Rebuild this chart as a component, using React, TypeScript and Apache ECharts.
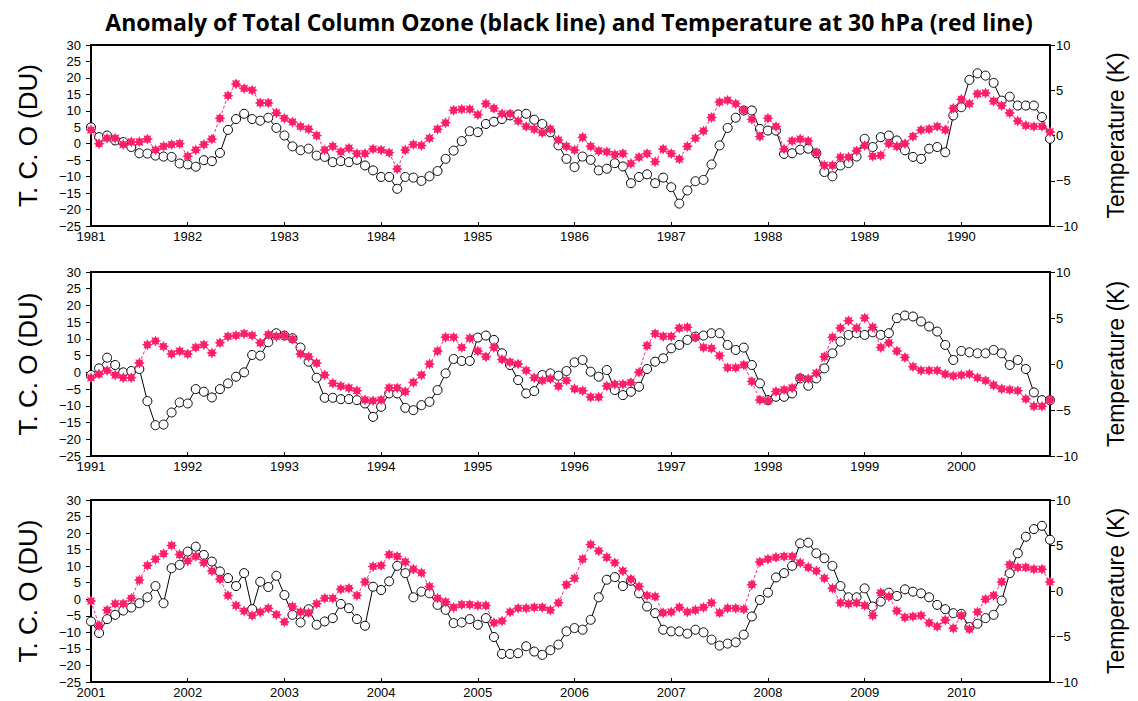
import React, { useEffect, useRef } from "react";
import * as echarts from "echarts";

const TITLE = "Anomaly of Total Column Ozone (black line) and Temperature at 30 hPa (red line)";
const START_YEARS = [1981, 1991, 2001];
const LEFT_NAME = "T. C. O (DU)";
const RIGHT_NAME = "Temperature (K)";

const OZONE_1981 = [
  5, 2, 2.5, 1, 0.5, -1, -2.9, -3, -3.6, -3.9, -4, -6,
  -6.3, -7, -5, -5.3, -2.8, 4.2, 7.5, 9.1, 7.5, 7, 7.9, 4.8,
  2.5, -0.8, -2, -1.5, -3.6, -4, -5.6, -5.3, -5.6, -4.9, -6.6, -8.1,
  -10.1, -10.1, -13.7, -10.1, -10.3, -11.3, -9.9, -8.3, -4.6, -2.1, 0.8, 3.8,
  3.5, 6, 6.7, 7.5, 8.6, 8.9, 9.1, 7.3, 6, 3.5, -0.5, -4.6,
  -7.1, -3.9, -4.9, -8.1, -7.6, -5.9, -6.9, -12, -10.1, -9.3, -12, -10.3,
  -13.2, -18.2, -14.2, -11.4, -11, -6.3, -0.5, 4.8, 7.9, 10.1, 10.1, 4.5,
  4, 4, -3.1, -2.9, -1.8, -1.5, -2.9, -8.6, -9.9, -6.6, -5.9, -3.9,
  1.5, -1, 2, 2.5, 1, -2, -4, -4.6, -1.5, -1, -2.6, 8.6,
  11.1, 19.4, 21.4, 20.7, 18.5, 13.1, 14.3, 11.6, 11.6, 11.6, 8.1, 1.5,
];
const TEMP_1981 = [
  0.6, -0.9, -0.3, -0.3, -1.0, -0.7, -0.7, -0.4, -1.6, -1.2, -1.0, -0.9,
  -2.3, -1.6, -1.0, -0.4, 1.9, 4.4, 5.7, 5.2, 5.0, 3.6, 3.6, 2.5,
  1.9, 1.5, 1.0, 0.7, 0, -1.6, -1.2, -1.8, -1.4, -2.0, -2.0, -1.5,
  -1.6, -1.9, -3.7, -1.6, -1.0, -1.1, -0.3, 0.7, 1.4, 2.8, 2.9, 2.9,
  2.3, 3.5, 3.0, 2.4, 2.4, 1.6, 1.0, 0.7, 0.3, 0.7, -0.5, -1.2,
  -1.6, -0.2, -1.2, -1.7, -1.8, -2.1, -2.0, -3.1, -2.4, -2.0, -2.9, -1.5,
  -2.0, -2.6, -1.2, -0.3, 0.5, 2.0, 3.7, 3.9, 3.5, 2.8, 1.8, -0.1,
  1.9, 1.0, -1.5, -0.6, -0.4, -0.6, -1.9, -3.3, -3.3, -2.4, -2.4, -1.7,
  -1.1, -2.3, -2.2, -0.9, -1.2, -0.9, -0.1, 0.6, 0.7, 1.0, 0.6, 3.0,
  4.0, 3.5, 4.6, 4.7, 3.8, 3.3, 2.5, 1.6, 1.1, 1.0, 1.0, 0.4,
];
const OZONE_1991 = [
  -0.8, 1.2, 4.4, 2.2, 0, 0.4, 1.0, -8.6, -15.8, -15.6, -12, -9,
  -9.3, -5, -5.8, -7.5, -5, -3.3, -1.3, 0, 5.2, 5.0, 9, 11.7,
  11, 10.2, 7.4, 3.2, -1.6, -7.6, -7.6, -8, -8, -8.3, -9.3, -13.3,
  -10.3, -6.3, -6.3, -10.6, -11.3, -9.8, -8.8, -5.3, -0.3, 4.0, 3.4, 3.4,
  10.4, 11, 9.7, 5.7, 2.2, -2.3, -6.3, -5.6, -0.8, -0.3, -1, 0.4,
  3, 3.7, 0.2, -1.3, 0.7, -5.3, -6.8, -5.8, -4.3, 1.0, 3.2, 4.2,
  7.2, 8.2, 9.7, 10.7, 11, 11.7, 11.7, 8.2, 6.7, 7.4, 2.2, -3.3,
  -8.3, -7.3, -7.3, -6.3, -1.8, -4, -1.8, 1.2, 5.7, 9.2, 11.2, 11.7,
  11.2, 12, 11.2, 11.7, 16.2, 17, 16.7, 15.2, 13.7, 12.2, 8.2, 3.7,
  6.4, 6, 5.7, 5.7, 6.7, 5.7, 2.2, 3.7, 1.0, -6, -8.3, -8.3,
];
const TEMP_1991 = [
  -1.5, -1.1, -0.7, -1.2, -1.5, -1.5, 0.1, 2.1, 2.5, 1.9, 1.1, 1.4,
  1.1, 1.8, 2.1, 1.2, 2.3, 3.0, 3.1, 3.3, 3.1, 2.3, 3.2, 3.0,
  3.1, 2.7, 1.1, 0.8, 0.1, -1.2, -2.1, -2.4, -2.6, -2.9, -3.9, -4.0,
  -3.9, -2.6, -2.6, -3.0, -2.0, -1.2, 0, 1.4, 2.9, 2.9, 1.8, 2.8,
  1.4, 0.8, 1.8, 0.5, 0.2, 0, -0.7, -1.5, -1.8, -1.6, -2.4, -1.8,
  -2.7, -2.9, -3.6, -3.6, -2.4, -2.2, -2.2, -2.0, -0.9, 2.0, 3.3, 3.0,
  3.0, 3.9, 4.0, 2.9, 1.8, 1.7, 0.9, -0.4, -0.4, -0.1, -1.9, -3.9,
  -4.0, -3.0, -2.8, -2.6, -1.5, -1.6, -1.0, 0.8, 2.9, 3.9, 4.7, 3.9,
  5.0, 4.0, 1.8, 2.3, 1.4, 0.7, -0.3, -0.7, -0.7, -0.7, -1.1, -1.3,
  -1.2, -1.1, -1.5, -1.8, -2.3, -2.7, -2.8, -2.9, -3.8, -4.6, -4.6, -3.9,
];
const OZONE_2001 = [
  -6.7, -10.2, -6, -4.7, -3.4, -2.5, -1.2, 0.6, 4, -1.2, 9.4, 10.4,
  14.4, 15.9, 13.4, 11.4, 8.4, 6.4, 4, 7.9, -3, 5.3, 3.7, 7.1,
  1.3, -4.7, -7, -3, -7.7, -6.7, -5.7, -1.4, -2.7, -6, -8, 3.8,
  2.8, 5.4, 10.1, 7.9, 0.6, 2.3, 1.8, -1.7, -3.2, -7.2, -7, -6,
  -7.7, -5.7, -11.4, -16.5, -16.5, -16.3, -14.2, -15.8, -16.8, -15.4, -13.7, -9.7,
  -8.7, -9.2, -6.2, 0.6, 5.9, 6.7, 4, 5.6, 1.8, -2.2, -4.2, -9.2,
  -9.7, -9.7, -10.4, -9.2, -10, -12.2, -14, -13.4, -13, -10.7, -5.2, -0.2,
  2, 6.6, 7.9, 10.1, 16.9, 17.1, 13.9, 12.4, 10.1, 4, 0.6, 0.6,
  3.3, -2.2, -0.7, 2, 1, 3, 2.3, 1.8, 0.6, -1.7, -3, -4.2,
  -4.4, -8.4, -7.4, -5.7, -4.7, -0.4, 7.9, 13.9, 18.9, 21.2, 22.2, 18,
];
const TEMP_2001 = [
  -1.1, -3.8, -2.1, -1.4, -1.4, -0.8, 1.2, 2.8, 3.5, 4.1, 5.0, 4.0,
  3.3, 3.8, 3.1, 2.2, 1.3, -0.5, -1.6, -2.2, -2.7, -2.3, -1.9, -2.6,
  -3.4, -1.7, -2.3, -2.4, -1.4, -0.8, -0.8, 0.2, 0.3, -0.5, 1.0, 2.7,
  2.8, 4.0, 3.8, 3.2, 2.4, 2.0, 0.5, -0.8, -1.2, -1.8, -1.5, -1.5,
  -1.6, -1.6, -3.5, -3.3, -2.3, -1.9, -1.9, -1.8, -1.8, -2.1, -1.3, 0.7,
  1.4, 3.5, 5.1, 4.4, 3.7, 3.1, 2.2, 1.3, 0.5, -0.5, -0.6, -2.4,
  -2.3, -1.8, -2.3, -2.1, -1.8, -1.3, -2.4, -1.9, -1.9, -2.0, 0.7, 3.2,
  3.5, 3.7, 3.8, 3.8, 3.1, 2.6, 2.2, 1.4, 0.3, -1.3, -1.4, -1.3,
  -1.6, -2.7, -0.2, -0.6, -2.2, -2.9, -2.8, -2.7, -3.5, -3.9, -3.2, -4.1,
  -2.7, -4.2, -2.3, -0.9, -0.5, 1.0, 2.9, 2.6, 2.6, 2.4, 2.4, 1.0,
];

const OZONE = [OZONE_1981, OZONE_1991, OZONE_2001];
const TEMP = [TEMP_1981, TEMP_1991, TEMP_2001];

const STAR =
  "path://M20 10L15.54 12.3L17.07 17.07L12.3 15.54L10 20L7.7 15.54L2.93 17.07L4.46 12.3L0 10L4.46 7.7L2.93 2.93L7.7 4.46L10 0L12.3 4.46L17.07 2.93L15.54 7.7Z";

function monthCategories(startYear: number): string[] {
  const out: string[] = [];
  for (let y = 0; y < 10; y++) {
    for (let m = 1; m <= 12; m++) {
      out.push(`${startYear + y}-${m < 10 ? "0" + m : m}`);
    }
  }
  return out;
}

const GRIDS = [
  { top: 45, height: 181 },
  { top: 272, height: 184 },
  { top: 500, height: 182 },
];

const FONT = "Liberation Sans";

export default function App() {
  const ref = useRef<HTMLDivElement>(null);
  useEffect(() => {
    if (!ref.current) return;
    const chart = echarts.init(ref.current, undefined, { renderer: "svg" });
    const yearTick = (idx: number) => idx % 12 === 0;
    const minus = (v: number) => String(v).replace("-", "\u2212");

    const grid: any[] = [];
    const xAxis: any[] = [];
    const yAxis: any[] = [];
    const series: any[] = [];

    START_YEARS.forEach((start, p) => {
      grid.push({
        left: 91,
        right: 88,
        top: GRIDS[p].top,
        height: GRIDS[p].height,
        show: true,
        borderColor: "#000",
        borderWidth: 2,
        backgroundColor: "#fff",
      });
      xAxis.push({
        type: "category",
        gridIndex: p,
        data: monthCategories(start),
        boundaryGap: false,
        axisLine: { show: true, onZero: false, lineStyle: { color: "#000", width: 2 } },
        axisTick: { show: true, inside: true, length: 4, interval: yearTick, lineStyle: { color: "#000", width: 1 } },
        axisLabel: {
          interval: yearTick,
          formatter: (v: string) => v.slice(0, 4),
          margin: 4,
          color: "#000",
          fontSize: 13,
          fontFamily: FONT,
        },
        splitLine: { show: false },
      });
      yAxis.push({
        type: "value",
        gridIndex: p,
        position: "left",
        min: -25,
        max: 30,
        interval: 5,
        axisLine: { show: true, onZero: false, lineStyle: { color: "#000", width: 2 } },
        axisTick: { show: true, length: 5, lineStyle: { color: "#000", width: 1 } },
        axisLabel: { formatter: minus, margin: 10, color: "#000", fontSize: 13, fontFamily: FONT },
        splitLine: { show: false },
        name: LEFT_NAME,
        nameLocation: "middle",
        nameGap: 50,
        nameTextStyle: { fontSize: 26, color: "#000", fontFamily: FONT },
      });
      yAxis.push({
        type: "value",
        gridIndex: p,
        position: "right",
        min: -10,
        max: 10,
        interval: 5,
        axisLine: { show: true, onZero: false, lineStyle: { color: "#000", width: 2 } },
        axisTick: { show: true, length: 5, lineStyle: { color: "#000", width: 1 } },
        axisLabel: { formatter: minus, margin: 6, color: "#000", fontSize: 13, fontFamily: FONT },
        splitLine: { show: false },
        name: RIGHT_NAME,
        nameLocation: "middle",
        nameGap: 54,
        nameTextStyle: { fontSize: 23, color: "#000", fontFamily: FONT },
      });
      series.push({
        type: "line",
        name: `Ozone ${start}`,
        xAxisIndex: p,
        yAxisIndex: p * 2,
        data: OZONE[p],
        symbol: "circle",
        symbolSize: 9,
        showSymbol: true,
        showAllSymbol: true,
        itemStyle: { color: "#fff", borderColor: "#000", borderWidth: 1 },
        lineStyle: { color: "#000", width: 1 },
        z: 2,
      });
      series.push({
        type: "line",
        name: `Temperature ${start}`,
        xAxisIndex: p,
        yAxisIndex: p * 2 + 1,
        data: TEMP[p],
        symbol: STAR,
        symbolSize: 11,
        showSymbol: true,
        showAllSymbol: true,
        itemStyle: { color: "#ff1f68" },
        lineStyle: { color: "#ff1aa0", width: 1, type: [3, 2] },
        z: 3,
      });
    });

    chart.setOption({
      animation: false,
      backgroundColor: "#fff",
      title: {
        text: TITLE,
        left: "center",
        top: 5,
        textStyle: { fontSize: 23, fontWeight: "bold", color: "#000", fontFamily: "Open Sans" },
      },
      grid,
      xAxis,
      yAxis,
      series,
    });
    return () => chart.dispose();
  }, []);
  return <div ref={ref} style={{ position: "fixed", left: 0, top: 0, width: 1138, height: 701 }} />;
}
